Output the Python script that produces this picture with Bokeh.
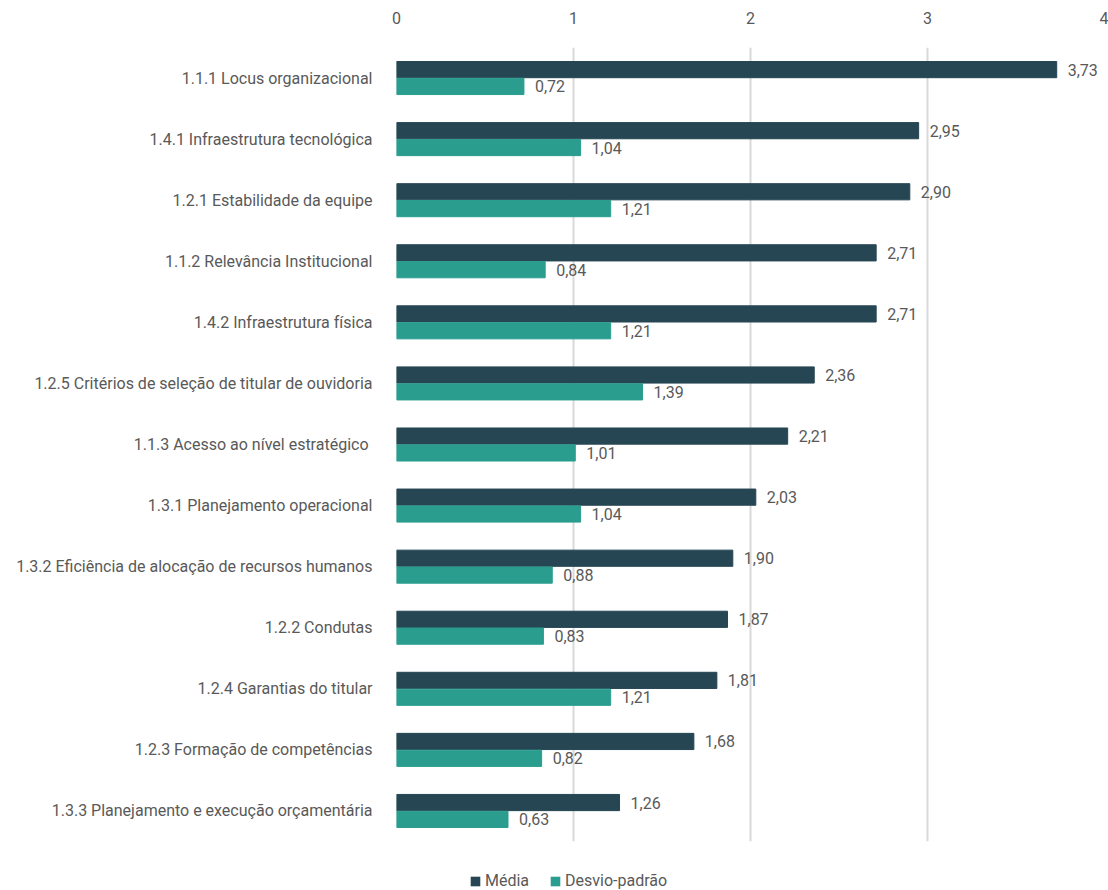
from bokeh.plotting import figure
from bokeh.layouts import column
from bokeh.models import FactorRange, ColumnDataSource, Legend, LegendItem, LinearAxis, FixedTicker, Range1d
from bokeh.transform import dodge
from bokeh.core.properties import value
from bokeh.embed import file_html
from bokeh.resources import INLINE

categories = [
    "1.1.1 Locus organizacional",
    "1.4.1 Infraestrutura tecnológica",
    "1.2.1 Estabilidade da equipe",
    "1.1.2 Relevância Institucional",
    "1.4.2 Infraestrutura física",
    "1.2.5 Critérios de seleção de titular de ouvidoria",
    "1.1.3 Acesso ao nível estratégico ",
    "1.3.1 Planejamento operacional",
    "1.3.2 Eficiência de alocação de recursos humanos",
    "1.2.2 Condutas",
    "1.2.4 Garantias do titular",
    "1.2.3 Formação de competências",
    "1.3.3 Planejamento e execução orçamentária",
]
media = [3.73, 2.95, 2.90, 2.71, 2.71, 2.36, 2.21, 2.03, 1.90, 1.87, 1.81, 1.68, 1.26]
desvio = [0.72, 1.04, 1.21, 0.84, 1.21, 1.39, 1.01, 1.04, 0.88, 0.83, 1.21, 0.82, 0.63]
x_ticks = [0, 1, 2, 3, 4]
series_names = ["Média", "Desvio-padrão"]

FONT = "Roboto"
FS = "16px"
TXT = "#595959"
DARK = "#264653"
TEAL = "#2a9d8f"

src = ColumnDataSource(dict(
    cat=categories,
    media=media,
    desvio=desvio,
    media_lbl=[f"{v:.2f}".replace(".", ",") for v in media],
    desvio_lbl=[f"{v:.2f}".replace(".", ",") for v in desvio],
))

p = figure(
    width=1108, height=850,
    y_range=FactorRange(factors=list(reversed(categories)), range_padding=0),
    x_range=(0, 4),
    output_backend="svg", toolbar_location=None,
    x_axis_location=None,
    min_border_left=396, min_border_right=4, min_border_top=47, min_border_bottom=9,
)
p.outline_line_color = None
p.background_fill_color = "white"
p.border_fill_color = "white"

p.hbar(y=dodge("cat", 0.138, range=p.y_range), right="media", left=0, height=0.265,
       source=src, fill_color=DARK, line_color=DARK)
p.hbar(y=dodge("cat", -0.138, range=p.y_range), right="desvio", left=0, height=0.265,
       source=src, fill_color=TEAL, line_color=TEAL)

p.text(x="media", y=dodge("cat", 0.138, range=p.y_range), text="media_lbl", source=src,
       x_offset=11, text_baseline="middle", text_align="left",
       text_font=value(FONT), text_font_size=FS, text_color=TXT)
p.text(x="desvio", y=dodge("cat", -0.138, range=p.y_range), text="desvio_lbl", source=src,
       x_offset=11, text_baseline="middle", text_align="left",
       text_font=value(FONT), text_font_size=FS, text_color=TXT)

xaxis = LinearAxis(ticker=FixedTicker(ticks=x_ticks))
xaxis.axis_line_color = None
xaxis.major_tick_line_color = None
xaxis.minor_tick_line_color = None
xaxis.major_label_text_font = FONT
xaxis.major_label_text_font_size = FS
xaxis.major_label_text_color = TXT
xaxis.major_label_standoff = 18
p.add_layout(xaxis, "above")

p.xgrid.ticker = FixedTicker(ticks=x_ticks)
p.xgrid.grid_line_color = "#d9d9d9"
p.xgrid.grid_line_width = 2
p.ygrid.grid_line_color = None

ya = p.yaxis[0]
ya.axis_line_color = None
ya.major_tick_line_color = None
ya.minor_tick_line_color = None
ya.major_label_text_font = FONT
ya.major_label_text_font_size = FS
ya.major_label_text_color = TXT
ya.major_label_standoff = 18

# legend strip below the chart (its renderers are hidden; only the legend shows)
lg = figure(width=1108, height=40, output_backend="svg", toolbar_location=None,
            x_axis_location=None, y_axis_location=None,
            x_range=Range1d(0, 4), y_range=FactorRange(factors=categories),
            min_border_left=396, min_border_right=4, min_border_top=0, min_border_bottom=0)
lg.outline_line_color = None
lg.grid.grid_line_color = None
lr1 = lg.hbar(y="cat", right="media", left=0, height=0.5, source=src,
              fill_color=DARK, line_color=None, visible=False)
lr2 = lg.hbar(y="cat", right="desvio", left=0, height=0.5, source=src,
              fill_color=TEAL, line_color=None, visible=False)

legend = Legend(items=[LegendItem(label=series_names[0], renderers=[lr1]),
                       LegendItem(label=series_names[1], renderers=[lr2])],
                orientation="horizontal", location=(73, 0))
legend.border_line_color = None
legend.background_fill_alpha = 0
legend.inactive_fill_alpha = 0
legend.label_text_font = FONT
legend.label_text_font_size = FS
legend.label_text_color = TXT
legend.label_height = 16
legend.glyph_width = 12
legend.glyph_height = 12
legend.label_standoff = 4
legend.spacing = 20
legend.padding = 0
legend.margin = 0
lg.add_layout(legend, "center")

layout = column(p, lg, spacing=0)
open("out.html", "w").write(file_html(layout, INLINE))
